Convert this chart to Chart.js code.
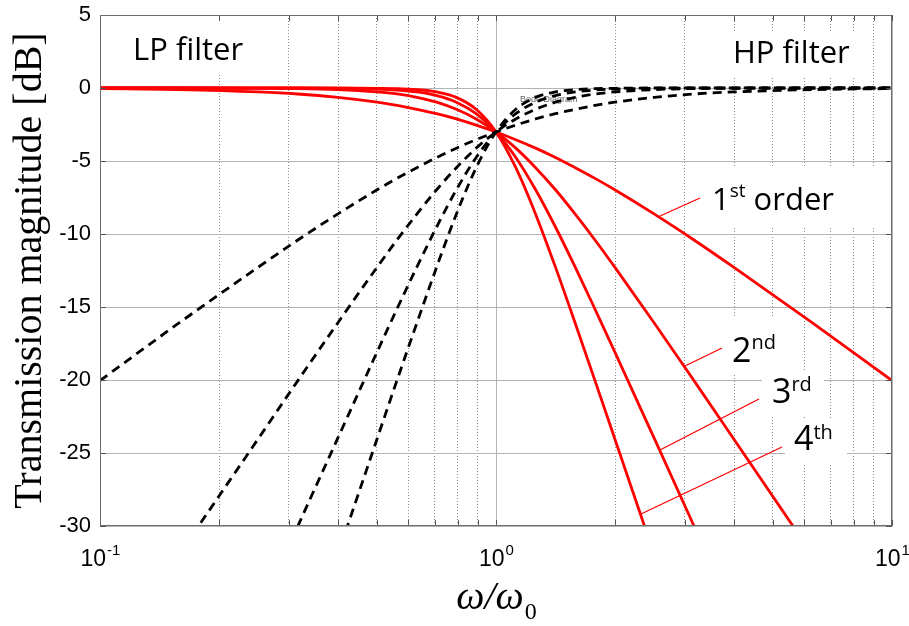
<!DOCTYPE html>
<html>
<head>
<meta charset="utf-8">
<script src="https://cdn.jsdelivr.net/npm/chart.js@4/dist/chart.umd.min.js"></script>
<style>
  html, body { margin: 0; padding: 0; background: #fff; }
  #wrap { width: 909px; height: 626px; }
</style>
</head>
<body>
<div id="wrap"><canvas id="bode"></canvas></div>
<script>
// normalised frequency w/w0 (shared by every curve)
const omega = [0.1, 0.158, 0.251, 0.316, 0.398, 0.501, 0.562, 0.631, 0.708, 0.794, 0.891, 1,
  1.122, 1.259, 1.413, 1.585, 1.778, 1.995, 2.512, 3.162, 3.981, 6.31, 10];

// low pass, solid red [dB]
const lp1 = [-0.04, -0.11, -0.27, -0.41, -0.64, -0.97, -1.19, -1.46, -1.76, -2.12, -2.54, -3.01,
  -3.54, -4.12, -4.76, -5.46, -6.19, -6.97, -8.64, -10.41, -12.27, -16.11, -20.04];
const lp2 = [0, 0, -0.02, -0.04, -0.11, -0.27, -0.41, -0.64, -0.97, -1.46, -2.12, -3.01,
  -4.12, -5.46, -6.97, -8.64, -10.41, -12.27, -16.11, -20.04, -24.02, -32.0, -40.0];
const lp3 = [0, 0, 0, 0, -0.02, -0.07, -0.14, -0.27, -0.52, -0.97, -1.76, -3.01,
  -4.76, -6.97, -9.52, -12.27, -15.14, -18.07, -24.02, -30.0, -36.0, -48.0, -60.0];
const lp4 = [0, 0, 0, 0, 0, -0.02, -0.04, -0.11, -0.27, -0.64, -1.46, -3.01,
  -5.46, -8.64, -12.27, -16.11, -20.04, -24.02, -32.0, -40.0, -48.0, -64.0, -80.0];

// high pass, dashed black [dB]
const hp1 = [-20.04, -16.11, -12.27, -10.41, -8.64, -6.97, -6.19, -5.46, -4.76, -4.12, -3.54, -3.01,
  -2.54, -2.12, -1.76, -1.46, -1.19, -0.97, -0.64, -0.41, -0.27, -0.11, -0.04];
const hp2 = [-40.0, -32.0, -24.02, -20.04, -16.11, -12.27, -10.41, -8.64, -6.97, -5.46, -4.12, -3.01,
  -2.12, -1.46, -0.97, -0.64, -0.41, -0.27, -0.11, -0.04, -0.02, 0, 0];
const hp3 = [-60.0, -48.0, -36.0, -30.0, -24.02, -18.07, -15.14, -12.27, -9.52, -6.97, -4.76, -3.01,
  -1.76, -0.97, -0.52, -0.27, -0.14, -0.07, -0.02, 0, 0, 0, 0];
const hp4 = [-80.0, -64.0, -48.0, -40.0, -32.0, -24.02, -20.04, -16.11, -12.27, -8.64, -5.46, -3.01,
  -1.46, -0.64, -0.27, -0.11, -0.04, -0.02, 0, 0, 0, 0, 0];

// axis ticks
const xGridValues = [0.1, 0.2, 0.3, 0.4, 0.5, 0.6, 0.7, 0.8, 0.9, 1, 2, 3, 4, 5, 6, 7, 8, 9, 10];
const xTickValues = [0.1, 1, 10];
const xTickExponents = ["-1", "0", "1"];
const orderNumbers = ["1", "2", "3", "4"];
const orderSuffixes = ["st", "nd", "rd", "th"];

const isDecade = v => Math.abs(Math.log10(v) - Math.round(Math.log10(v))) < 1e-6;

function curve(label, values, color, dashed, order) {
  return {
    label: label,
    data: omega.map((w, i) => ({ x: w, y: values[i] })),
    borderColor: color,
    borderWidth: 2.8,
    borderDash: dashed ? [9, 6] : [],
    pointRadius: 0,
    fill: false,
    cubicInterpolationMode: "monotone",
    clip: 0,
    order: order,
  };
}

function supText(ctx, x, y, big, sup, rest, bigSize, supSize, rise) {
  ctx.font = bigSize + 'px "Open Sans"';
  ctx.fillText(big, x, y);
  x += ctx.measureText(big).width;
  ctx.font = supSize + 'px "Open Sans"';
  ctx.fillText(sup, x, y - rise);
  x += ctx.measureText(sup).width;
  if (rest) {
    ctx.font = bigSize + 'px "Open Sans"';
    ctx.fillText(rest, x, y);
  }
}

// white label boxes, notes, frame and custom tick labels
const decorPlugin = {
  id: "decor",
  beforeDatasetsDraw(chart) {
    const ctx = chart.ctx;
    ctx.save();
    ctx.fillStyle = "#fff";
    ctx.fillRect(125, 20, 125, 55);   // LP filter
    ctx.fillRect(728, 33, 132, 45);   // HP filter
    ctx.fillRect(700, 166, 180, 60);  // 1st order
    ctx.fillRect(728, 318, 60, 57);   // 2nd
    ctx.fillRect(762, 372, 62, 44);   // 3rd
    ctx.fillRect(785, 418, 62, 46);   // 4th
    ctx.fillStyle = "#666";
    ctx.font = '9px "Liberation Sans"';
    ctx.textBaseline = "alphabetic";
    ctx.fillText("Bode Diagram", 520, 102);
    ctx.restore();
  },
  afterDatasetsDraw(chart) {
    const ctx = chart.ctx;
    const a = chart.chartArea;
    const xs = chart.scales.x, ys = chart.scales.y;
    ctx.save();
    // leader lines
    ctx.strokeStyle = "#f00";
    ctx.lineWidth = 1.3;
    [[660, 216, 700, 198], [685, 366, 722, 348], [660, 450, 759, 399], [641, 514, 782, 447]]
      .forEach(l => { ctx.beginPath(); ctx.moveTo(l[0], l[1]); ctx.lineTo(l[2], l[3]); ctx.stroke(); });

    ctx.fillStyle = "#000";
    ctx.textBaseline = "alphabetic";
    ctx.font = '31px "Open Sans"';
    ctx.fillText("LP filter", 133, 60);
    ctx.fillText("HP filter", 733, 63);
    supText(ctx, 712, 210, orderNumbers[0], orderSuffixes[0], " order", 31, 19, 13);
    supText(ctx, 732, 362, orderNumbers[1], orderSuffixes[1], "", 34, 20, 13);
    supText(ctx, 772, 403, orderNumbers[2], orderSuffixes[2], "", 34, 20, 12);
    supText(ctx, 794, 450, orderNumbers[3], orderSuffixes[3], "", 34, 20, 11);

    // frame and inner tick marks
    ctx.strokeStyle = "#555";
    ctx.lineWidth = 1;
    ctx.beginPath();
    xGridValues.forEach(v => {
      const px = Math.round(xs.getPixelForValue(v)) + 0.5;
      ctx.moveTo(px, a.bottom); ctx.lineTo(px, a.bottom - 6);
      ctx.moveTo(px, a.top); ctx.lineTo(px, a.top + 6);
    });
    ys.ticks.forEach(t => {
      const py = Math.round(ys.getPixelForValue(t.value)) + 0.5;
      ctx.moveTo(a.left, py); ctx.lineTo(a.left + 6, py);
      ctx.moveTo(a.right, py); ctx.lineTo(a.right - 6, py);
    });
    ctx.stroke();
    ctx.strokeStyle = "#6e6e6e";
    ctx.strokeRect(a.left + 0.5, a.top + 0.5, a.right - a.left - 1, a.bottom - a.top - 1);
    ctx.restore();
  },
  afterDraw(chart) {
    const ctx = chart.ctx;
    const a = chart.chartArea;
    const xs = chart.scales.x;
    ctx.save();
    ctx.fillStyle = "#000";
    ctx.textBaseline = "alphabetic";
    // x tick labels 10^n
    xTickValues.forEach((v, i) => {
      ctx.font = '23px "Liberation Sans"';
      const wBase = ctx.measureText("10").width;
      ctx.font = '15px "Liberation Sans"';
      const wExp = ctx.measureText(xTickExponents[i]).width;
      const x0 = xs.getPixelForValue(v) - (wBase + wExp) / 2;
      ctx.font = '23px "Liberation Sans"';
      ctx.fillText("10", x0, 566);
      ctx.font = '15px "Liberation Sans"';
      ctx.fillText(xTickExponents[i], x0 + wBase + 1, 555);
    });
    // x title  w/w0
    ctx.font = 'italic 40px "Liberation Serif"';
    const wMain = ctx.measureText("ω/ω").width;
    ctx.font = '24px "Liberation Serif"';
    const wSub = ctx.measureText("0").width;
    const cx = (a.left + a.right) / 2;
    const tx = cx - (wMain + wSub) / 2;
    ctx.font = 'italic 40px "Liberation Serif"';
    ctx.fillText("ω/ω", tx, 609);
    ctx.font = '24px "Liberation Serif"';
    ctx.fillText("0", tx + wMain + 1, 619);
    ctx.restore();
  },
};

const config = {
  type: "line",
  data: {
    datasets: [
      curve("HP 1st order", hp1, "#000", true, 1),
      curve("HP 2nd order", hp2, "#000", true, 1),
      curve("HP 3rd order", hp3, "#000", true, 1),
      curve("HP 4th order", hp4, "#000", true, 1),
      curve("LP 1st order", lp1, "#f00", false, 2),
      curve("LP 2nd order", lp2, "#f00", false, 2),
      curve("LP 3rd order", lp3, "#f00", false, 2),
      curve("LP 4th order", lp4, "#f00", false, 2),
    ],
  },
  options: {
    responsive: true,
    maintainAspectRatio: false,
    animation: false,
    layout: { padding: { top: 15, right: 17, left: 0, bottom: 0 } },
    plugins: {
      legend: { display: false },
      tooltip: { enabled: false },
    },
    scales: {
      x: {
        type: "logarithmic",
        min: 0.1,
        max: 10,
        afterBuildTicks: s => { s.ticks = xGridValues.map(v => ({ value: v })); },
        ticks: { display: false },
        grid: {
          color: c => (c.tick && isDecade(c.tick.value) ? "#b4b4b4" : "#8a8a8a"),
          lineWidth: 1,
          drawTicks: false,
        },
        border: {
          display: false,
          dash: c => (c.tick && !isDecade(c.tick.value) ? [1, 2] : []),
        },
        afterFit: s => {
          s.height = 100;
          s.paddingLeft = 0;
          s.paddingRight = 0;
        },
      },
      y: {
        min: -30,
        max: 5,
        ticks: {
          stepSize: 5,
          color: "#000",
          padding: 9,
          font: { family: "Liberation Sans", size: 22 },
        },
        grid: { color: "#b4b4b4", lineWidth: 1, drawTicks: false },
        border: { display: false },
        title: {
          display: true,
          text: "Transmission magnitude [dB]",
          color: "#000",
          font: { family: "Liberation Serif", size: 40 },
          padding: { top: 6, bottom: 0 },
        },
        afterFit: s => {
          s.width = 100;
          s.paddingTop = 0;
          s.paddingBottom = 0;
        },
      },
    },
  },
  plugins: [decorPlugin],
};

const bodeChart = new Chart(document.getElementById("bode"), config);
</script>
</body>
</html>
